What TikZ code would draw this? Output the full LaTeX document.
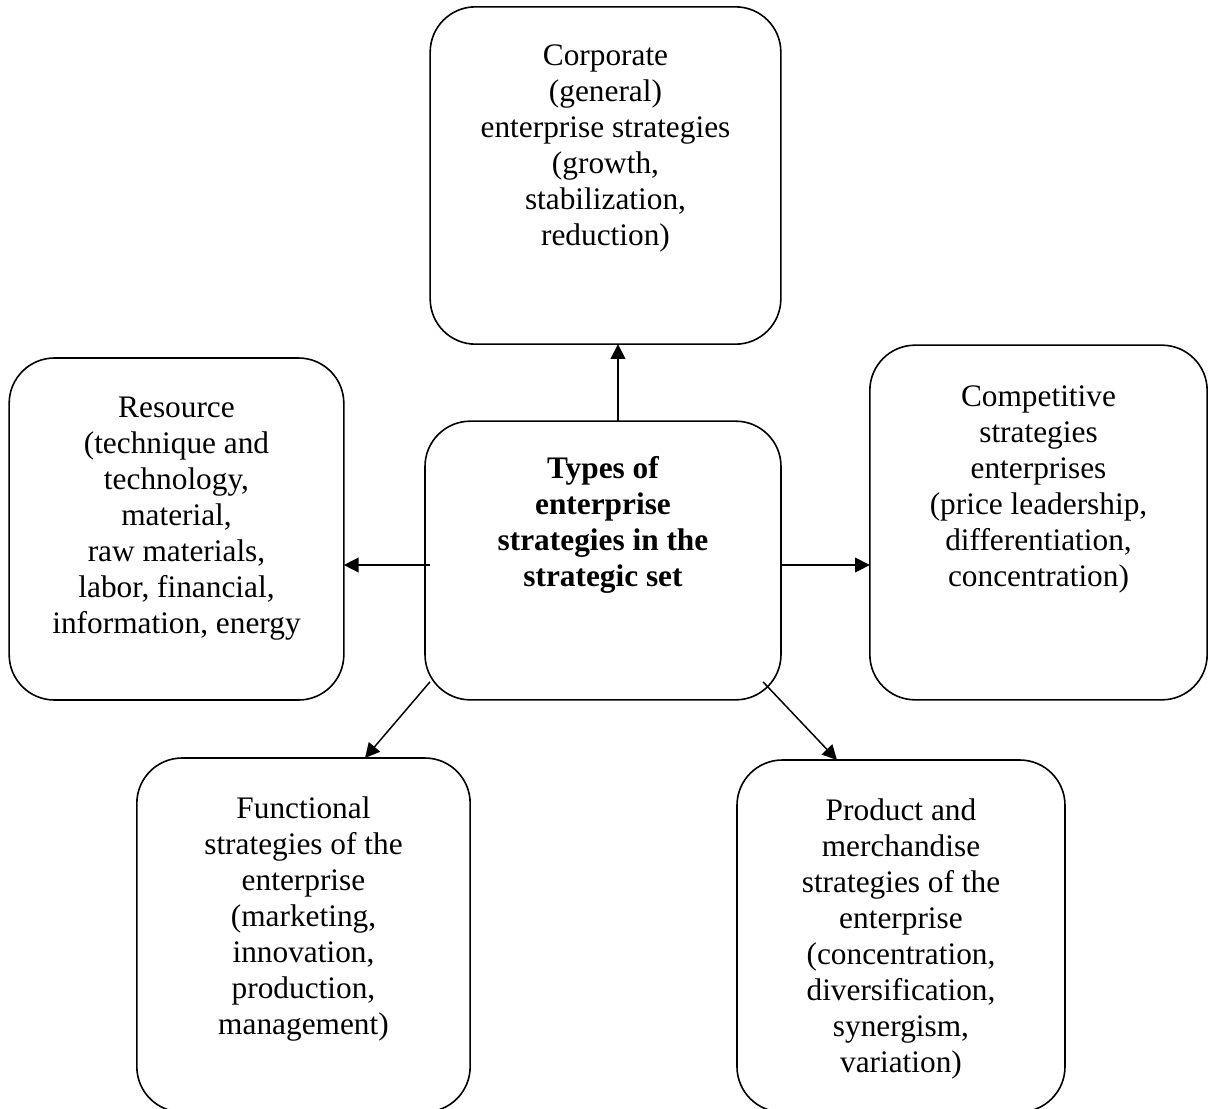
\documentclass[tikz,border=0pt]{standalone}
\usepackage{fontspec}
\setmainfont{Liberation Serif}
\usetikzlibrary{positioning,arrows.meta}

\tikzset{
  sbox/.style={draw, line width=1.2pt, rounded corners=34pt, inner sep=0pt, outer sep=0pt},
  stxt/.style={align=center, inner sep=0pt, font=\fontsize{23.5}{27}\selectfont},
  sarr/.style={line width=1.1pt, -{Triangle[length=11pt,width=11pt]}}
}

\begin{document}
\begin{tikzpicture}[x=0.75pt,y=0.75pt,yscale=-1,xscale=1]
	\useasboundingbox (0,0) rectangle (1208,1108);

	% Rounded boxes
	\node[sbox, minimum width=263pt, minimum height=253pt] (corp) at (605.5,175.5) {};
	\node[sbox, minimum width=251pt, minimum height=256.5pt] (res) at (176.5,529) {};
	\node[sbox, minimum width=267pt, minimum height=209pt] (types) at (603,560.5) {};
	\node[sbox, minimum width=253pt, minimum height=266pt] (comp) at (1038.5,522.5) {};
	\node[sbox, minimum width=250pt, minimum height=265.5pt] (func) at (303.5,935) {};
	\node[sbox, minimum width=246pt, minimum height=264pt] (prod) at (901,936) {};

	% Text Nodes
	\node[stxt, below=28.5pt of corp.north] (corptxt) {Corporate\\(general)\\enterprise strategies\\(growth,\\stabilization,\\reduction)};
	\node[stxt, below=29pt of res.north] (restxt) {Resource\\(technique and\\technology,\\material,\\raw materials,\\labor, financial,\\information, energy};
	\node[stxt, below=26.5pt of types.north, font=\fontsize{23.5}{27}\selectfont\bfseries] (typestxt) {Types of\\enterprise\\strategies in the\\strategic set};
	\node[stxt, below=30pt of comp.north] (comptxt) {Competitive\\strategies\\enterprises\\(price leadership,\\differentiation,\\concentration)};
	\node[stxt, below=29pt of func.north] (functxt) {Functional\\strategies of the\\enterprise\\(marketing,\\innovation,\\production,\\management)};
	\node[stxt, below=28.5pt of prod.north] (prodtxt) {Product and\\merchandise\\strategies of the\\enterprise\\(concentration,\\diversification,\\synergism,\\variation)};

	% Arrows
	\draw[sarr] ([shift={(15,0)}]types.north) -- ([shift={(12.5,0)}]corp.south);
	\draw[sarr] ([shift={(5,4.5)}]types.west) -- ([shift={(0,36)}]res.east);
	\draw[sarr] ([shift={(0,4.5)}]types.east) -- ([shift={(0,42.5)}]comp.west);
	\draw[sarr] ([shift={(5,-18)}]types.south west) -- ([shift={(61.5,0)}]func.north);
	\draw[sarr] ([shift={(-18,-18)}]types.south east) -- ([shift={(-64,0)}]prod.north);

\end{tikzpicture}
\end{document}
